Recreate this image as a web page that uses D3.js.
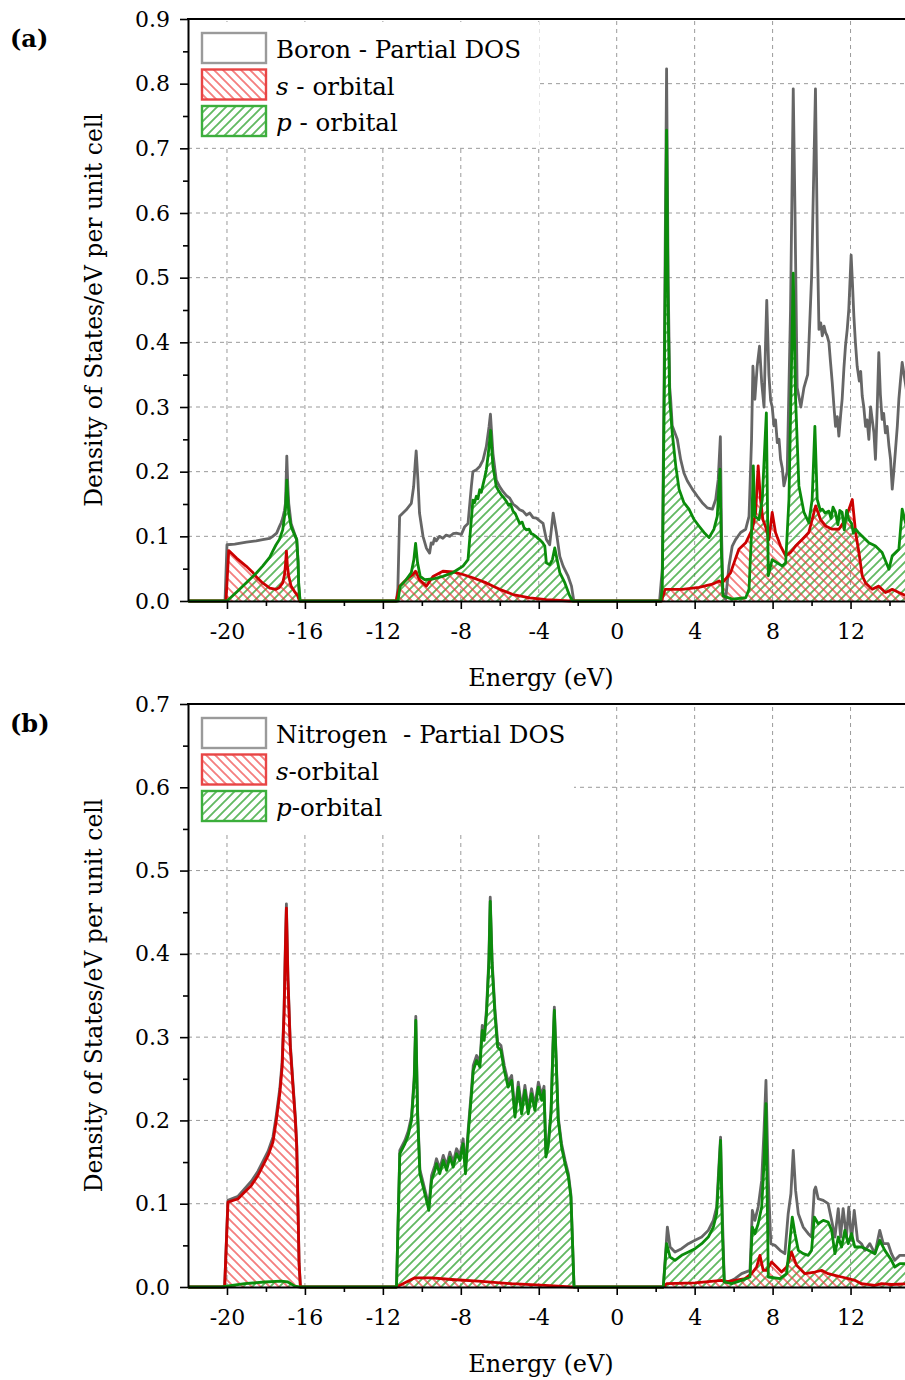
<!DOCTYPE html>
<html>
<head>
<meta charset="utf-8">
<script src="https://cdn.jsdelivr.net/npm/d3@7"></script>
<style>
  body { margin: 0; background: #fff; }
  svg { display: block; }
</style>
</head>
<body>
<svg id="chart" width="905" height="1380"></svg>
<script>
// ---- data: [energy (eV), DOS] ----
var xTicks = [-20, -16, -12, -8, -4, 0, 4, 8, 12];
var xMinorTicks = [-18, -14, -10, -6, -2, 2, 6, 10, 14];
var yTicksA = [0, 0.1, 0.2, 0.3, 0.4, 0.5, 0.6, 0.7, 0.8, 0.9];
var yMinorA = [0.05, 0.15, 0.25, 0.35, 0.45, 0.55, 0.65, 0.75, 0.85];
var yTicksB = [0, 0.1, 0.2, 0.3, 0.4, 0.5, 0.6, 0.7];
var yMinorB = [0.05, 0.15, 0.25, 0.35, 0.45, 0.55, 0.65];

var boronTotal = [
  [-22, 0], [-20.1, 0], [-20.0, 0.087], [-19.6, 0.088], [-19.0, 0.091], [-18.5, 0.093], [-18.17, 0.095],
  [-17.8, 0.097], [-17.65, 0.1], [-17.45, 0.105], [-17.31, 0.115], [-17.22, 0.121], [-17.14, 0.128],
  [-17.05, 0.14], [-17.0, 0.151], [-16.97, 0.18], [-16.93, 0.224], [-16.88, 0.18], [-16.83, 0.151],
  [-16.71, 0.12], [-16.54, 0.105], [-16.42, 0.095], [-16.35, 0.06], [-16.32, 0.023], [-16.25, 0],
  [-11.3, 0], [-11.23, 0.02], [-11.14, 0.131], [-10.8, 0.141], [-10.54, 0.151], [-10.42, 0.177],
  [-10.34, 0.213], [-10.29, 0.232], [-10.2, 0.187], [-10.12, 0.136], [-9.94, 0.1], [-9.77, 0.082],
  [-9.6, 0.074], [-9.52, 0.09], [-9.43, 0.088], [-9.35, 0.097], [-9.26, 0.093], [-9.1, 0.1], [-8.92, 0.097],
  [-8.75, 0.102], [-8.57, 0.1], [-8.4, 0.104], [-8.23, 0.105], [-7.97, 0.103], [-7.8, 0.115], [-7.63, 0.12],
  [-7.46, 0.177], [-7.38, 0.2], [-7.2, 0.203], [-7.03, 0.208], [-6.86, 0.218], [-6.69, 0.239], [-6.55, 0.27],
  [-6.48, 0.289], [-6.35, 0.228], [-6.18, 0.187], [-6.01, 0.177], [-5.83, 0.169], [-5.66, 0.163], [-5.49, 0.159],
  [-5.32, 0.15], [-5.15, 0.146], [-4.98, 0.141], [-4.81, 0.139], [-4.63, 0.133], [-4.46, 0.136], [-4.29, 0.129],
  [-4.12, 0.128], [-3.95, 0.124], [-3.78, 0.12], [-3.61, 0.095],
  [-3.44, 0.087], [-3.26, 0.136], [-3.09, 0.105], [-2.92, 0.069], [-2.75, 0.054], [-2.49, 0.038],
  [-2.32, 0.023], [-2.2, 0],
  [2.2, 0], [2.34, 0.05], [2.45, 0.4], [2.56, 0.823], [2.64, 0.5], [2.72, 0.33], [2.77, 0.312], [2.85, 0.271],
  [3.11, 0.25], [3.28, 0.219], [3.45, 0.198], [3.62, 0.186], [3.88, 0.173], [4.14, 0.162], [4.39, 0.152],
  [4.65, 0.144], [4.91, 0.142], [5.08, 0.157], [5.21, 0.188], [5.32, 0.254], [5.38, 0.106], [5.45, 0.013],
  [5.59, 0.003], [5.76, 0.054], [5.93, 0.085], [6.1, 0.095], [6.36, 0.106], [6.62, 0.111], [6.79, 0.131],
  [6.92, 0.25], [6.99, 0.363], [7.09, 0.312], [7.21, 0.363], [7.33, 0.394], [7.44, 0.338], [7.56, 0.3],
  [7.64, 0.4], [7.7, 0.465], [7.81, 0.35], [7.9, 0.31], [7.98, 0.3], [8.07, 0.271], [8.15, 0.28], [8.24, 0.245],
  [8.33, 0.25], [8.41, 0.219], [8.5, 0.205], [8.58, 0.178], [8.75, 0.2], [8.92, 0.45], [9.06, 0.792], [9.15, 0.6],
  [9.26, 0.33], [9.45, 0.3], [9.61, 0.33], [9.8, 0.35], [10.0, 0.5], [10.2, 0.792], [10.3, 0.55], [10.38, 0.42],
  [10.47, 0.43], [10.55, 0.41], [10.64, 0.425], [10.72, 0.415], [10.8, 0.41], [10.89, 0.4], [10.97, 0.37],
  [11.06, 0.338], [11.15, 0.3], [11.23, 0.27], [11.32, 0.285], [11.4, 0.255], [11.5, 0.29], [11.57, 0.312],
  [11.66, 0.36], [11.74, 0.394], [11.83, 0.42], [11.91, 0.451], [12.03, 0.535], [12.1, 0.49], [12.17, 0.441],
  [12.25, 0.4], [12.34, 0.363], [12.45, 0.34], [12.52, 0.355], [12.6, 0.317], [12.68, 0.3], [12.77, 0.27],
  [12.85, 0.28], [12.94, 0.25], [13.03, 0.3], [13.11, 0.281], [13.2, 0.26], [13.28, 0.219], [13.37, 0.3],
  [13.45, 0.384], [13.53, 0.32], [13.62, 0.281], [13.7, 0.29], [13.79, 0.26], [13.88, 0.27], [13.97, 0.24],
  [14.05, 0.22], [14.14, 0.173], [14.22, 0.2], [14.31, 0.235], [14.4, 0.27], [14.48, 0.312], [14.56, 0.34],
  [14.65, 0.369], [15, 0.3]
];

var boronS = [
  [-22, 0], [-20.05, 0], [-19.91, 0.078], [-19.5, 0.066], [-19.02, 0.054], [-18.7, 0.045], [-18.51, 0.038],
  [-18.17, 0.028], [-17.8, 0.02], [-17.48, 0.018], [-17.31, 0.021], [-17.14, 0.028], [-17.05, 0.04],
  [-17.0, 0.055], [-16.95, 0.077], [-16.9, 0.055], [-16.83, 0.038], [-16.71, 0.023], [-16.54, 0.015],
  [-16.37, 0.008], [-16.28, 0],
  [-11.32, 0], [-11.14, 0.023], [-10.8, 0.033], [-10.46, 0.041], [-10.32, 0.046], [-10.12, 0.033],
  [-9.77, 0.023], [-9.43, 0.038], [-8.92, 0.046], [-8.4, 0.045], [-7.89, 0.041], [-7.38, 0.036],
  [-6.69, 0.028], [-6.01, 0.018], [-5.32, 0.01], [-4.46, 0.005], [-3.61, 0.002], [-2.41, 0],
  [2.3, 0], [2.48, 0.018], [3.37, 0.018], [4.22, 0.021], [4.91, 0.026], [5.25, 0.031], [5.41, 0.028],
  [5.59, 0.034], [5.85, 0.044], [6.02, 0.059], [6.27, 0.08], [6.62, 0.09], [6.96, 0.111], [7.13, 0.137],
  [7.26, 0.209], [7.38, 0.157], [7.5, 0.126], [7.64, 0.115], [7.81, 0.095], [7.98, 0.137], [8.15, 0.106],
  [8.41, 0.085], [8.67, 0.07], [8.92, 0.075], [9.18, 0.085], [9.52, 0.095], [9.86, 0.106], [10.21, 0.147],
  [10.46, 0.126], [10.72, 0.116], [11.06, 0.111], [11.4, 0.111], [11.74, 0.126], [12.09, 0.157],
  [12.26, 0.106], [12.43, 0.075], [12.6, 0.039], [12.77, 0.028], [13.11, 0.018], [13.45, 0.023],
  [13.79, 0.013], [14.14, 0.018], [14.48, 0.013], [15, 0.006]
];

var boronP = [
  [-22, 0], [-20.0, 0], [-19.5, 0.014], [-19.02, 0.028], [-18.5, 0.043], [-18.17, 0.054], [-17.8, 0.068],
  [-17.65, 0.077], [-17.48, 0.087], [-17.31, 0.095], [-17.14, 0.11], [-17.0, 0.141], [-16.95, 0.17],
  [-16.93, 0.187], [-16.88, 0.16], [-16.83, 0.136], [-16.71, 0.115], [-16.54, 0.103], [-16.42, 0.095],
  [-16.35, 0.06], [-16.32, 0.028], [-16.25, 0],
  [-11.23, 0], [-11.11, 0.023], [-10.8, 0.033], [-10.54, 0.044], [-10.41, 0.064], [-10.32, 0.089],
  [-10.22, 0.059], [-10.08, 0.038], [-9.86, 0.033], [-9.43, 0.034], [-8.92, 0.038], [-8.4, 0.044],
  [-7.89, 0.054], [-7.63, 0.064], [-7.46, 0.126], [-7.38, 0.156], [-7.29, 0.152], [-7.2, 0.162],
  [-7.12, 0.158], [-7.03, 0.172], [-6.95, 0.168], [-6.86, 0.18], [-6.78, 0.19], [-6.69, 0.203],
  [-6.6, 0.225], [-6.55, 0.239], [-6.47, 0.264], [-6.4, 0.23], [-6.35, 0.208], [-6.25, 0.19],
  [-6.18, 0.177], [-6.05, 0.17], [-5.92, 0.164], [-5.8, 0.16], [-5.66, 0.154], [-5.55, 0.148],
  [-5.45, 0.15], [-5.32, 0.139], [-5.2, 0.135], [-5.1, 0.128], [-4.98, 0.12], [-4.85, 0.122],
  [-4.75, 0.113], [-4.63, 0.11], [-4.5, 0.111], [-4.38, 0.104], [-4.29, 0.103], [-4.15, 0.1],
  [-4.05, 0.097], [-3.95, 0.095], [-3.8, 0.09], [-3.69, 0.085], [-3.61, 0.059], [-3.44, 0.056],
  [-3.3, 0.064], [-3.18, 0.082], [-3.06, 0.064], [-2.92, 0.044], [-2.66, 0.028], [-2.44, 0.01], [-2.27, 0],
  [2.26, 0], [2.34, 0.02], [2.45, 0.35], [2.56, 0.728], [2.64, 0.45], [2.72, 0.312], [2.85, 0.26],
  [3.03, 0.209], [3.2, 0.173], [3.45, 0.152], [3.71, 0.142], [3.97, 0.126], [4.22, 0.116], [4.48, 0.106],
  [4.74, 0.098], [4.99, 0.111], [5.16, 0.131], [5.3, 0.204], [5.37, 0.08], [5.45, 0.008], [5.93, 0.003],
  [6.62, 0.005], [6.79, 0.018], [6.92, 0.106], [7.01, 0.209], [7.09, 0.131], [7.3, 0.126], [7.47, 0.157],
  [7.68, 0.291], [7.78, 0.039], [7.98, 0.064], [8.24, 0.059], [8.5, 0.054], [8.67, 0.059], [8.84, 0.157],
  [8.97, 0.363], [9.06, 0.507], [9.18, 0.312], [9.35, 0.178], [9.61, 0.137], [9.86, 0.121], [10.03, 0.157],
  [10.17, 0.27], [10.29, 0.157], [10.45, 0.14], [10.55, 0.142], [10.7, 0.136], [10.89, 0.139], [11.0, 0.128],
  [11.1, 0.145], [11.23, 0.137], [11.35, 0.118], [11.45, 0.14], [11.57, 0.137], [11.68, 0.11], [11.8, 0.14],
  [11.91, 0.126], [12.05, 0.12], [12.15, 0.105], [12.26, 0.111], [12.4, 0.106], [12.6, 0.1], [12.94, 0.09],
  [13.28, 0.085], [13.62, 0.075], [13.97, 0.049], [14.14, 0.07], [14.48, 0.08], [14.65, 0.142], [15, 0.1]
];

var nitrogenTotal = [
  [-22, 0], [-20.12, 0], [-19.95, 0.104], [-19.43, 0.109], [-19.09, 0.118], [-18.75, 0.127], [-18.41, 0.139],
  [-18.15, 0.151], [-17.89, 0.163], [-17.64, 0.18], [-17.47, 0.206], [-17.29, 0.238], [-17.17, 0.27],
  [-17.07, 0.334], [-17.0, 0.414], [-16.95, 0.46], [-16.87, 0.372], [-16.75, 0.292], [-16.61, 0.244],
  [-16.49, 0.204], [-16.42, 0.171], [-16.35, 0.09], [-16.3, 0.03], [-16.23, 0],
  [-11.3, 0], [-11.13, 0.164], [-10.87, 0.176], [-10.7, 0.187], [-10.53, 0.205], [-10.39, 0.253],
  [-10.31, 0.325], [-10.22, 0.214], [-10.1, 0.141], [-9.93, 0.125], [-9.76, 0.109], [-9.64, 0.097],
  [-9.5, 0.134], [-9.33, 0.146], [-9.25, 0.154], [-9.08, 0.142], [-8.9, 0.158], [-8.73, 0.146],
  [-8.56, 0.162], [-8.39, 0.15], [-8.22, 0.166], [-8.05, 0.158], [-7.88, 0.178], [-7.76, 0.142],
  [-7.62, 0.19], [-7.45, 0.238], [-7.36, 0.266], [-7.19, 0.278], [-7.02, 0.27], [-6.9, 0.314], [-6.8, 0.302],
  [-6.68, 0.334], [-6.56, 0.394], [-6.49, 0.468], [-6.39, 0.39], [-6.25, 0.334], [-6.11, 0.294],
  [-5.94, 0.29], [-5.77, 0.266], [-5.57, 0.246], [-5.39, 0.254], [-5.22, 0.21], [-5.05, 0.246],
  [-4.88, 0.214], [-4.71, 0.242], [-4.54, 0.214], [-4.37, 0.238], [-4.2, 0.218], [-4.02, 0.246],
  [-3.85, 0.23], [-3.73, 0.241], [-3.63, 0.16], [-3.52, 0.172], [-3.37, 0.212], [-3.27, 0.292],
  [-3.2, 0.336], [-3.12, 0.284], [-3.0, 0.204], [-2.83, 0.172], [-2.65, 0.152], [-2.48, 0.136],
  [-2.35, 0.111], [-2.26, 0.05], [-2.19, 0],
  [2.39, 0], [2.6, 0.072], [2.74, 0.048], [2.99, 0.042], [3.33, 0.046], [3.68, 0.052], [4.02, 0.056],
  [4.36, 0.06], [4.7, 0.068], [4.96, 0.08], [5.13, 0.096], [5.25, 0.148], [5.33, 0.18], [5.42, 0.088],
  [5.52, 0.008], [5.73, 0.006], [6.07, 0.01], [6.41, 0.016], [6.84, 0.02], [6.96, 0.092], [7.09, 0.08],
  [7.26, 0.096], [7.44, 0.128], [7.56, 0.188], [7.66, 0.248], [7.78, 0.128], [7.91, 0.052], [8.12, 0.05],
  [8.38, 0.044], [8.63, 0.04], [8.8, 0.088], [8.94, 0.112], [9.06, 0.164], [9.18, 0.116], [9.32, 0.088],
  [9.57, 0.072], [9.83, 0.064], [10.0, 0.06], [10.14, 0.116], [10.21, 0.12], [10.34, 0.106], [10.6, 0.104],
  [10.85, 0.1], [11.03, 0.08], [11.2, 0.06], [11.37, 0.094], [11.49, 0.06], [11.62, 0.094], [11.79, 0.06],
  [11.91, 0.096], [12.05, 0.056], [12.19, 0.092], [12.36, 0.056], [12.56, 0.052], [12.74, 0.044],
  [12.99, 0.052], [13.25, 0.04], [13.5, 0.068], [13.68, 0.052], [13.93, 0.052], [14.1, 0.04], [14.27, 0.032],
  [14.53, 0.038], [15, 0.038]
];

var nitrogenS = [
  [-22, 0], [-20.12, 0], [-19.95, 0.102], [-19.43, 0.106], [-19.09, 0.114], [-18.75, 0.122], [-18.41, 0.134],
  [-18.15, 0.146], [-17.89, 0.158], [-17.64, 0.174], [-17.47, 0.2], [-17.29, 0.232], [-17.17, 0.264],
  [-17.07, 0.328], [-17.0, 0.408], [-16.95, 0.455], [-16.87, 0.368], [-16.75, 0.288], [-16.61, 0.24],
  [-16.49, 0.2], [-16.42, 0.168], [-16.35, 0.088], [-16.3, 0.028], [-16.23, 0],
  [-11.3, 0], [-10.36, 0.011], [-9.5, 0.011], [-8.48, 0.009], [-7.11, 0.007], [-5.39, 0.004], [-3.68, 0.002],
  [-2.31, 0],
  [2.39, 0], [2.56, 0.004], [4.02, 0.005], [5.38, 0.008], [5.56, 0.006], [6.07, 0.008], [6.58, 0.01],
  [6.92, 0.016], [7.18, 0.024], [7.35, 0.038], [7.52, 0.02], [7.69, 0.02], [7.95, 0.03], [8.21, 0.024],
  [8.46, 0.018], [8.72, 0.024], [8.97, 0.042], [9.23, 0.026], [9.66, 0.016], [10.17, 0.018], [10.51, 0.02],
  [10.85, 0.016], [11.2, 0.014], [11.54, 0.012], [11.88, 0.01], [12.22, 0.008], [12.56, 0.004],
  [13.25, 0.002], [13.59, 0.004], [14.1, 0.003], [15, 0.004]
];

var nitrogenP = [
  [-22, 0], [-20.29, 0], [-19.09, 0.004], [-18.07, 0.006], [-17.21, 0.007], [-16.87, 0.006], [-16.52, 0.001],
  [-16.27, 0],
  [-11.3, 0], [-11.13, 0.16], [-10.87, 0.172], [-10.7, 0.182], [-10.53, 0.2], [-10.39, 0.248], [-10.31, 0.32],
  [-10.22, 0.208], [-10.1, 0.136], [-9.93, 0.12], [-9.76, 0.104], [-9.64, 0.092], [-9.5, 0.128], [-9.33, 0.14],
  [-9.25, 0.148], [-9.08, 0.136], [-8.9, 0.152], [-8.73, 0.14], [-8.56, 0.156], [-8.39, 0.144], [-8.22, 0.16],
  [-8.05, 0.152], [-7.88, 0.172], [-7.76, 0.136], [-7.62, 0.184], [-7.45, 0.232], [-7.36, 0.26],
  [-7.19, 0.272], [-7.02, 0.264], [-6.9, 0.308], [-6.8, 0.296], [-6.68, 0.328], [-6.56, 0.388],
  [-6.49, 0.463], [-6.39, 0.384], [-6.25, 0.328], [-6.11, 0.288], [-5.94, 0.284], [-5.77, 0.26],
  [-5.57, 0.24], [-5.39, 0.248], [-5.22, 0.204], [-5.05, 0.24], [-4.88, 0.208], [-4.71, 0.236],
  [-4.54, 0.208], [-4.37, 0.232], [-4.2, 0.212], [-4.02, 0.24], [-3.85, 0.224], [-3.73, 0.236],
  [-3.63, 0.156], [-3.52, 0.168], [-3.37, 0.208], [-3.27, 0.288], [-3.2, 0.332], [-3.12, 0.28], [-3.0, 0.2],
  [-2.83, 0.168], [-2.65, 0.148], [-2.48, 0.132], [-2.35, 0.108], [-2.26, 0.048], [-2.19, 0],
  [2.39, 0], [2.56, 0.052], [2.74, 0.036], [2.99, 0.032], [3.33, 0.038], [3.68, 0.042], [4.02, 0.046],
  [4.36, 0.052], [4.7, 0.06], [4.96, 0.072], [5.13, 0.088], [5.25, 0.14], [5.33, 0.176], [5.42, 0.068],
  [5.52, 0.006], [5.9, 0.004], [6.41, 0.008], [6.84, 0.012], [6.96, 0.072], [7.09, 0.064], [7.26, 0.076],
  [7.44, 0.096], [7.56, 0.148], [7.66, 0.22], [7.78, 0.012], [8.38, 0.01], [8.72, 0.016], [8.89, 0.056],
  [9.01, 0.084], [9.15, 0.064], [9.32, 0.044], [9.57, 0.04], [9.83, 0.038], [10.0, 0.044], [10.14, 0.084],
  [10.34, 0.076], [10.6, 0.08], [10.85, 0.078], [11.03, 0.068], [11.2, 0.04], [11.37, 0.06], [11.54, 0.048],
  [11.71, 0.068], [11.88, 0.052], [12.05, 0.064], [12.22, 0.048], [12.56, 0.048], [12.91, 0.044],
  [13.25, 0.04], [13.5, 0.056], [13.76, 0.044], [14.1, 0.032], [14.27, 0.024], [14.53, 0.028], [15, 0.028]
];

var panelA = {
  tag: "(a)", top: 19, bottom: 601, yMax: 0.9, yTicks: yTicksA, yMinor: yMinorA,
  total: boronTotal, s: boronS, p: boronP,
  legend: [["Boron - Partial DOS"], ["s", " - orbital"], ["p", " - orbital"]], legendW: 350
};
var panelB = {
  tag: "(b)", top: 704, bottom: 1287, yMax: 0.7, yTicks: yTicksB, yMinor: yMinorB,
  total: nitrogenTotal, s: nitrogenS, p: nitrogenP,
  legend: [["Nitrogen  - Partial DOS"], ["s", "-orbital"], ["p", "-orbital"]], legendW: 385
};

var FONT = "'DejaVu Serif', serif";
var GRAY = "#666666", RED = "#cc0000", GREEN = "#0b8c0b";
var svg = d3.select("#chart");

// hatch patterns
var defs = svg.append("defs");
defs.append("pattern").attr("id", "hatchS").attr("patternUnits", "userSpaceOnUse")
  .attr("width", 9).attr("height", 9)
  .append("path").attr("d", "M-1,8 l2,2 M0,0 l9,9 M8,-1 l2,2")
  .attr("stroke", "#ee3b3b").attr("stroke-opacity", 0.65).attr("stroke-width", 1.9);
defs.append("pattern").attr("id", "hatchP").attr("patternUnits", "userSpaceOnUse")
  .attr("width", 9).attr("height", 9)
  .append("path").attr("d", "M-1,1 l2,-2 M0,9 l9,-9 M8,10 l2,-2")
  .attr("stroke", "#2ea12e").attr("stroke-opacity", 0.75).attr("stroke-width", 1.9);

function drawPanel(cfg) {
  var g = svg.append("g");
  var x = d3.scaleLinear().domain([-22, 15]).range([188, 909]);
  var y = d3.scaleLinear().domain([0, cfg.yMax]).range([cfg.bottom, cfg.top]);

  // grid
  g.append("g").selectAll("line").data(xTicks).join("line")
    .attr("x1", d => x(d)).attr("x2", d => x(d))
    .attr("y1", y(0)).attr("y2", y(cfg.yMax))
    .attr("stroke", "#9a9a9a").attr("stroke-width", 1).attr("stroke-dasharray", "4,4");
  g.append("g").selectAll("line").data(cfg.yTicks.filter(d => d > 0 && d < cfg.yMax)).join("line")
    .attr("x1", x(-22)).attr("x2", x(15))
    .attr("y1", d => y(d)).attr("y2", d => y(d))
    .attr("stroke", "#9a9a9a").attr("stroke-width", 1).attr("stroke-dasharray", "4,4");

  var area = d3.area().x(d => x(d[0])).y0(y(0)).y1(d => y(d[1]));
  var line = d3.line().x(d => x(d[0])).y(d => y(d[1]));

  g.append("path").datum(cfg.p).attr("d", area).attr("fill", "url(#hatchP)");
  g.append("path").datum(cfg.s).attr("d", area).attr("fill", "url(#hatchS)");
  g.append("path").datum(cfg.total).attr("d", line)
    .attr("fill", "none").attr("stroke", GRAY).attr("stroke-width", 2.8).attr("stroke-linejoin", "round");
  g.append("path").datum(cfg.s).attr("d", line)
    .attr("fill", "none").attr("stroke", RED).attr("stroke-width", 2.8).attr("stroke-linejoin", "round");
  g.append("path").datum(cfg.p).attr("d", line)
    .attr("fill", "none").attr("stroke", GREEN).attr("stroke-width", 2.8).attr("stroke-linejoin", "round");

  // legend
  var lg = g.append("g");
  lg.append("rect").attr("x", 189).attr("y", cfg.top + 3).attr("width", cfg.legendW).attr("height", 124)
    .attr("fill", "#fff");
  var sw = [
    { stroke: "#9a9a9a", fill: "#fff" },
    { stroke: "#e84545", fill: "url(#hatchS)" },
    { stroke: "#3cae3c", fill: "url(#hatchP)" }
  ];
  cfg.legend.forEach(function (lab, i) {
    var yy = cfg.top + 14 + i * 36.5;
    lg.append("rect").attr("x", 202).attr("y", yy).attr("width", 64).attr("height", 30)
      .attr("fill", sw[i].fill).attr("stroke", sw[i].stroke).attr("stroke-width", 2.4);
    var t = lg.append("text").attr("x", 276).attr("y", yy + 25)
      .attr("font-family", FONT).attr("font-size", 24.5).style("white-space", "pre");
    if (lab.length == 1) {
      t.text(lab[0]);
    } else {
      t.append("tspan").attr("font-style", "italic").text(lab[0]);
      t.append("tspan").text(lab[1]);
    }
  });

  // axes
  var xAxis = g.append("g").attr("transform", "translate(0," + y(0) + ")")
    .call(d3.axisBottom(x).tickValues(xTicks).tickSize(8).tickPadding(14).tickSizeOuter(0)
      .tickFormat(d => String(d)));
  g.append("g").attr("transform", "translate(0," + y(0) + ")")
    .call(d3.axisBottom(x).tickValues(xMinorTicks).tickSize(5).tickSizeOuter(0).tickFormat(""))
    .call(a => a.select(".domain").remove());
  var yAxis = g.append("g").attr("transform", "translate(" + x(-22) + ",0)")
    .call(d3.axisLeft(y).tickValues(cfg.yTicks).tickSize(8).tickPadding(10).tickSizeOuter(0)
      .tickFormat(d3.format(".1f")));
  g.append("g").attr("transform", "translate(" + x(-22) + ",0)")
    .call(d3.axisLeft(y).tickValues(cfg.yMinor).tickSize(5).tickSizeOuter(0).tickFormat(""))
    .call(a => a.select(".domain").remove());
  g.selectAll(".tick line").attr("stroke", "#000").attr("stroke-width", 1.6);
  [xAxis, yAxis].forEach(function (a) {
    a.attr("font-family", FONT).attr("font-size", 22);
    a.select(".domain").attr("stroke", "#000").attr("stroke-width", 2);
    a.selectAll("text").attr("fill", "#000");
  });
  // top frame
  g.append("line").attr("x1", x(-22) - 1).attr("x2", x(15)).attr("y1", y(cfg.yMax)).attr("y2", y(cfg.yMax))
    .attr("stroke", "#000").attr("stroke-width", 2);

  // titles
  g.append("text").attr("x", 541).attr("y", y(0) + 85).attr("text-anchor", "middle")
    .attr("font-family", FONT).attr("font-size", 24).text("Energy (eV)");
  g.append("text").attr("transform", "translate(102," + ((cfg.top + cfg.bottom) / 2) + ") rotate(-90)")
    .attr("text-anchor", "middle").attr("font-family", FONT).attr("font-size", 23.5)
    .text("Density of States/eV per unit cell");
  g.append("text").attr("x", 10).attr("y", cfg.top + 28)
    .attr("font-family", FONT).attr("font-size", 24).attr("font-weight", "bold").text(cfg.tag);
}

drawPanel(panelA);
drawPanel(panelB);
</script>
</body>
</html>
